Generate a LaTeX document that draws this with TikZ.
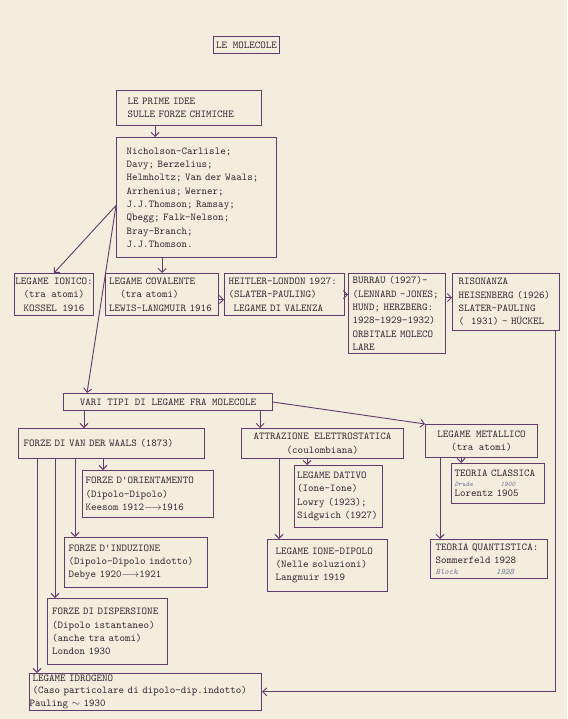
\documentclass[tikz,border=0pt]{standalone}
\usepackage{xcolor}
\usepackage{tikz}
\usetikzlibrary{arrows.meta}
\definecolor{paper}{RGB}{243,237,221}
\definecolor{ink}{RGB}{98,58,108}
\definecolor{typed}{RGB}{48,36,48}
\definecolor{pencil}{RGB}{105,118,150}
\newcommand{\typew}{\ttfamily\fontsize{10.5}{13.3}\selectfont}
\newcommand{\typetight}{\ttfamily\fontsize{10.5}{12.8}\selectfont}
\newcommand{\handw}{\ttfamily\itshape\fontsize{7}{8}\selectfont\color{pencil}}
\newcommand{\handwbig}{\ttfamily\itshape\fontsize{8.5}{9}\selectfont\color{pencil}}

\begin{document}
\begin{tikzpicture}[x=1pt, y=-1pt,
  box/.style={draw=ink, line width=1.1pt, anchor=north west, align=left, font=\typew, text=typed, inner xsep=0pt, inner ysep=1pt},
  arr/.style={draw=ink, line width=0.9pt, -{Straight Barb[length=4pt,width=8pt]}}]
\fill[paper] (0,0) rectangle (567,719);
% titolo e prime idee
\node[box, minimum width=66pt, minimum height=17pt, align=center] (titolo) at (213,36) {LE MOLECOLE};
\node[box, minimum width=145pt, minimum height=35pt, text width=123pt] (idee) at (116,90) {LE PRIME IDEE\\SULLE FORZE CHIMICHE};
\node[box, minimum width=160pt, minimum height=120pt, text width=140pt] (pionieri) at (116,137) {Nicholson-Carlisle;\\Davy; Berzelius;\\Helmholtz; Van der Waals;\\Arrhenius; Werner;\\J.J.Thomson; Ramsay;\\Qbegg; Falk-Nelson;\\Bray-Branch;\\J.J.Thomson.};
% legami tra atomi
\node[box, minimum width=79pt, minimum height=42pt, align=center] (ionico) at (14,273) {LEGAME IONICO:\\(tra atomi)\\KOSSEL 1916};
\node[box, minimum width=113pt, minimum height=42pt, text width=106pt] (covalente) at (105,273) {LEGAME COVALENTE\\\hspace*{11pt}(tra atomi)\\LEWIS-LANGMUIR 1916};
\node[box, minimum width=120pt, minimum height=42pt, text width=112pt] (heitler) at (224,273) {HEITLER-LONDON 1927:\\(SLATER-PAULING)\\\hspace*{5pt}LEGAME DI VALENZA};
\node[box, minimum width=97pt, minimum height=80pt, text width=89pt] (orbitali) at (348,273) {BURRAU (1927)-\\(LENNARD -JONES;\\HUND; HERZBERG:\\1928-1929-1932)\\ORBITALE MOLECO\\LARE};
\node[box, minimum width=107pt, minimum height=57pt, text width=95pt] (risonanza) at (452,273) {RISONANZA\\HEISENBERG (1926)\\SLATER-PAULING\\(\ \ 1931) - H\"UCKEL};
% legami fra molecole
\node[box, minimum width=209pt, minimum height=17pt, align=center] (vari) at (63,393) {VARI TIPI DI LEGAME FRA MOLECOLE};
\node[box, minimum width=186pt, minimum height=30pt, text width=176pt] (vdw) at (18,428) {FORZE DI VAN DER WAALS (1873)};
\node[box, minimum width=162pt, minimum height=30pt, align=center] (elettro) at (241,428) {ATTRAZIONE ELETTROSTATICA\\(coulombiana)};
\node[box, minimum width=112pt, minimum height=33pt, align=center] (metallico) at (425,424) {LEGAME METALLICO\\(tra atomi)};
\node[box, minimum width=131pt, minimum height=47pt, text width=125pt] (orientamento) at (82,470) {FORZE D'ORIENTAMENTO\\(Dipolo-Dipolo)\\Keesom 1912$\longrightarrow$1916};
\node[box, minimum width=143pt, minimum height=50pt, text width=135pt] (induzione) at (64,537) {FORZE D'INDUZIONE\\(Dipolo-Dipolo indotto)\\Debye 1920$\longrightarrow$1921};
\node[box, minimum width=120pt, minimum height=66pt, text width=111pt] (dispersione) at (47,598) {FORZE DI DISPERSIONE\\(Dipolo istantaneo)\\(anche tra atomi)\\London 1930};
\node[box, minimum width=232pt, minimum height=36pt, text width=226pt, font=\typetight] (idrogeno) at (29,673) {LEGAME IDROGENO\\(Caso particolare di dipolo-dip.indotto)\\\hspace*{-3pt}Pauling $\sim$ 1930};
\node[box, minimum width=88pt, minimum height=62pt, text width=83pt] (dativo) at (294,465) {LEGAME DATIVO\\(Ione-Ione)\\Lowry (1923);\\Sidgwich (1927)};
\node[box, minimum width=120pt, minimum height=52pt, text width=104pt] (ionedipolo) at (267,539) {LEGAME IONE-DIPOLO\\(Nelle soluzioni)\\Langmuir 1919};
\node[box, minimum width=93pt, minimum height=40pt, text width=87pt] (classica) at (451,463) {TEORIA CLASSICA\\[-4pt]\makebox[46pt][l]{\handw Drude}{\handw 1900}\\[-3pt]Lorentz 1905};
\node[box, minimum width=117pt, minimum height=39pt, text width=107pt] (quantistica) at (430,539) {TEORIA QUANTISTICA:\\Sommerfeld 1928\\[-3pt]\makebox[60.6pt][l]{\handwbig Block}{\handwbig 1928}};
% frecce
\draw[arr] ([xshift=39pt]idee.south west) -- ([xshift=39pt]idee.south west |- pionieri.north);
\draw[arr] ([yshift=-8pt]pionieri.west) -- (ionico.north);
\draw[arr] ([yshift=-8pt]pionieri.west) -- ([xshift=24pt]vari.north west);
\draw[arr] (covalente.north |- pionieri.south) -- (covalente.north);
\draw[arr] ([yshift=-5pt]covalente.east) -- ([yshift=-5pt]covalente.east -| heitler.west);
\draw[arr] (heitler.east) -- (heitler.east -| orbitali.west);
\draw[arr] ([yshift=-3pt]heitler.east -| orbitali.east) -- ([yshift=-3pt]heitler.east -| risonanza.west);
\draw[arr] ([xshift=-5pt]risonanza.south east) |- (idrogeno.east);
\draw[arr] ([xshift=21pt]vari.south west) -- ([xshift=21pt]vari.south west |- vdw.north);
\draw[arr] ([xshift=-13pt]vari.south east) -- ([xshift=-13pt]vari.south east |- elettro.north);
\draw[arr] (vari.east) -- (metallico.north west);
\foreach \dx/\dest in {85/orientamento, 57/induzione, 37/dispersione, 19/idrogeno}
  \draw[arr] ([xshift=\dx pt]vdw.south west) -- ([xshift=\dx pt]vdw.south west |- \dest.north);
\draw[arr] ([xshift=66pt]elettro.south west) -- ([xshift=66pt]elettro.south west |- dativo.north);
\draw[arr] ([xshift=38pt]elettro.south west) -- ([xshift=38pt]elettro.south west |- ionedipolo.north);
\draw[arr] ([xshift=36pt]metallico.south west) -- ([xshift=36pt]metallico.south west |- classica.north);
\draw[arr] ([xshift=15pt]metallico.south west) -- ([xshift=15pt]metallico.south west |- quantistica.north);
\end{tikzpicture}
\end{document}
